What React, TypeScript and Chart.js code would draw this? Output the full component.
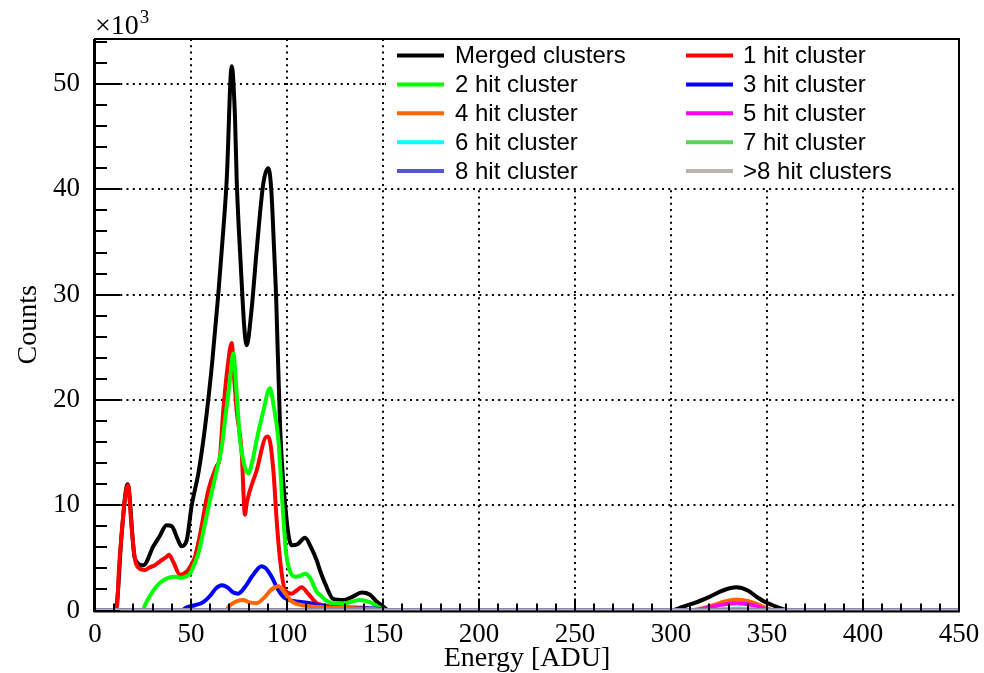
import { useEffect, useRef } from "react";
import { Chart, registerables } from "chart.js";

Chart.register(...registerables);

// Axis ranges (energy in ADU, counts in units of 10^3)
const energyRange = [0, 450];
const countsRange = [0, 54.28];
const energyStep = 50;
const countsStep = 10;

const seriesLabels = [
  "Merged clusters",
  "1 hit cluster",
  "2 hit cluster",
  "3 hit cluster",
  "4 hit cluster",
  "5 hit cluster",
  "6 hit cluster",
  "7 hit cluster",
  "8 hit cluster",
  ">8 hit clusters",
];

const seriesColors = [
  "#000000",
  "#ff0000",
  "#00ff00",
  "#0000ff",
  "#ff6600",
  "#ff00ff",
  "#00ffff",
  "#59d459",
  "#5555d5",
  "#bdb3a8",
];

// Merged clusters
const mergedEnergy = [0, 10, 11.3, 13.9, 17, 20.8, 25.2, 30.4, 33.5, 37.3, 40, 43, 45.1, 47.8, 50.3, 54, 57.3, 61, 64.2, 66, 68.6, 71.2, 72.9, 73.8, 75.5, 79, 81.5, 84.2, 87.7, 90.3, 91.8, 93.3, 94.3, 96.4, 99.8, 102.4, 105.5, 109.4, 112.5, 115.4, 117.2, 120, 124.1, 129.3, 134, 138.9, 143.2, 147, 150, 153, 300, 306, 312, 320, 327, 334, 340, 344.6, 349, 353, 358, 362, 450];
const mergedCounts = [0, 0, 0.5, 7.3, 12.0, 4.9, 4.3, 6.1, 7.0, 8.1, 8.0, 6.8, 6.1, 6.7, 9.9, 13.2, 17.4, 23.5, 30.0, 34.2, 40.9, 51.7, 46.9, 40.9, 34.2, 25.2, 28.5, 34.2, 40.6, 42.0, 40.0, 34.2, 30.0, 17.4, 8.6, 6.2, 6.3, 6.9, 6.0, 4.8, 3.8, 2.5, 1.1, 1.0, 1.3, 1.7, 1.5, 0.8, 0.4, 0, 0, 0.35, 0.7, 1.3, 1.9, 2.2, 1.9, 1.3, 0.8, 0.5, 0.15, 0, 0];

// 1 hit cluster
const hit1Energy = [0, 10.5, 11.5, 12.5, 13.9, 15.5, 17.2, 19, 20.8, 23, 26, 28.5, 31.2, 34, 37.3, 38.5, 40.8, 44.3, 47.8, 50, 52.1, 55, 59, 63.3, 65, 66.8, 69, 71.2, 72.5, 73.8, 76.4, 78.1, 79, 84.2, 89.4, 90.3, 92.9, 94.6, 96.4, 99, 102.4, 105, 107.6, 111, 115.4, 120, 125, 135, 150, 155, 450];
const hit1Counts = [0, 0, 0.5, 4.0, 7.3, 10.5, 11.9, 8.0, 4.9, 4.0, 3.85, 4.1, 4.3, 4.7, 5.1, 5.3, 4.6, 3.4, 3.7, 4.3, 5.1, 7.5, 11.4, 13.7, 14.5, 19.0, 23.0, 25.4, 22.0, 19.0, 15.0, 9.1, 10.2, 13.3, 16.5, 16.5, 13.3, 8.6, 4.8, 1.9, 1.6, 1.9, 2.2, 1.6, 0.7, 0.45, 0.3, 0.15, 0.05, 0, 0];

// 2 hit cluster
const hit2Energy = [0, 25, 26, 29, 32.1, 35, 38.2, 42, 45.1, 47, 49.5, 51.5, 53.8, 57, 59.9, 63, 66, 68, 70.3, 72, 74, 75.5, 77.5, 79.9, 82, 84.2, 87.5, 91.1, 93, 95.5, 97.5, 99.5, 101, 104.2, 107, 109.4, 112, 115.4, 117.2, 120.7, 124, 130, 138, 143, 147, 150, 152, 450];
const hit2Counts = [0, 0, 0.5, 1.5, 2.3, 2.8, 3.1, 3.2, 3.1, 3.2, 3.5, 4.3, 5.4, 8.0, 10.5, 13.0, 15.5, 18.5, 21.9, 24.4, 20.0, 16.2, 14.0, 13.0, 14.2, 16.2, 18.8, 21.1, 19.5, 16.2, 10.5, 5.5, 4.0, 3.2, 3.3, 3.5, 3.1, 1.8, 1.5, 0.9, 0.7, 0.7, 1.0, 0.8, 0.4, 0.1, 0, 0];

// 3 hit cluster
const hit3Energy = [0, 45, 47.7, 52, 56.4, 60, 63, 66, 69, 72, 74.6, 78, 82, 86.8, 89, 92, 95, 98.1, 101, 105, 112, 118.9, 125, 140, 150, 155, 320, 328, 335, 342, 350, 450];
const hit3Counts = [0, 0, 0.3, 0.5, 0.8, 1.4, 2.1, 2.4, 2.2, 1.7, 1.6, 2.2, 3.3, 4.2, 4.0, 3.2, 2.1, 1.3, 1.0, 0.85, 0.7, 0.4, 0.3, 0.25, 0.1, 0, 0, 0.1, 0.15, 0.1, 0, 0];

// 4 hit cluster
const hit4Energy = [0, 68, 70.3, 74, 77.2, 80, 84.2, 88, 92, 95.5, 98.5, 101.6, 104, 108.5, 115, 130, 145, 150, 152, 310, 316, 322, 328, 334, 340, 345, 350, 354, 450];
const hit4Counts = [0, 0, 0.5, 0.9, 1.0, 0.8, 0.7, 1.2, 2.0, 2.3, 1.8, 1.0, 0.7, 0.5, 0.35, 0.25, 0.15, 0.05, 0, 0, 0.2, 0.5, 0.85, 1.05, 0.9, 0.6, 0.2, 0, 0];

// 5 hit cluster
const hit5Energy = [0, 312, 318, 325, 334, 342, 348, 352, 450];
const hit5Counts = [0, 0, 0.2, 0.5, 0.7, 0.55, 0.2, 0, 0];

// 6 hit cluster
const hit6Energy = [0, 322, 328, 335, 342, 348, 450];
const hit6Counts = [0, 0, 0.12, 0.2, 0.12, 0, 0];

// 7 hit cluster
const hit7Energy = [0, 325, 335, 345, 450];
const hit7Counts = [0, 0, 0.1, 0, 0];

// 8 hit cluster
const hit8Energy = [0, 450];
const hit8Counts = [0, 0];

// more than 8 hits
const hitManyEnergy = [0, 450];
const hitManyCounts = [0, 0];

const seriesEnergy = [mergedEnergy, hit1Energy, hit2Energy, hit3Energy, hit4Energy, hit5Energy, hit6Energy, hit7Energy, hit8Energy, hitManyEnergy];
const seriesCounts = [mergedCounts, hit1Counts, hit2Counts, hit3Counts, hit4Counts, hit5Counts, hit6Counts, hit7Counts, hit8Counts, hitManyCounts];

const serif = '"Liberation Serif", "Times New Roman", serif';
const sans = '"Liberation Sans", Arial, sans-serif';

// Frame, inward ticks, dotted grid, legend box and the exponent label
const frameAndLegend = {
  id: "frameAndLegend",
  beforeDatasetsDraw(chart: any) {
    const { ctx, chartArea: a, scales } = chart;
    const x = scales.x;
    const y = scales.y;
    ctx.save();
    ctx.strokeStyle = "#000";
    ctx.lineWidth = 2;
    ctx.setLineDash([2, 4.3]);
    for (const t of x.ticks) {
      if (t.value <= x.min || t.value >= x.max) continue;
      const px = Math.round(x.getPixelForValue(t.value));
      ctx.beginPath();
      ctx.moveTo(px, a.top);
      ctx.lineTo(px, a.bottom);
      ctx.stroke();
    }
    for (const t of y.ticks) {
      if (t.value <= y.min || t.value >= y.max) continue;
      const py = Math.round(y.getPixelForValue(t.value));
      ctx.beginPath();
      ctx.moveTo(a.left, py);
      ctx.lineTo(a.right, py);
      ctx.stroke();
    }
    ctx.restore();
  },
  afterDatasetsDraw(chart: any) {
    const { ctx, chartArea: a, scales } = chart;
    const x = scales.x;
    const y = scales.y;
    ctx.save();

    // legend box
    const boxLeft = 386;
    const boxBottom = 188;
    ctx.fillStyle = "#fff";
    ctx.fillRect(boxLeft, a.top + 1, a.right - 1 - boxLeft, boxBottom - a.top - 1);
    const colLine = [397, 686];
    const colText = [455, 743];
    ctx.font = `24px ${sans}`;
    ctx.textBaseline = "middle";
    ctx.textAlign = "left";
    ctx.lineWidth = 4;
    chart.data.datasets.forEach((ds: any, i: number) => {
      const col = i % 2;
      const row = Math.floor(i / 2);
      const ly = 55.5 + row * 28.9;
      ctx.strokeStyle = ds.borderColor;
      ctx.beginPath();
      ctx.moveTo(colLine[col], ly);
      ctx.lineTo(colLine[col] + 47, ly);
      ctx.stroke();
      ctx.fillStyle = "#000";
      ctx.fillText(ds.label, colText[col], ly + 1);
    });

    // frame
    ctx.strokeStyle = "#000";
    ctx.lineWidth = 2;
    ctx.strokeRect(a.left, a.top, a.right - a.left, a.bottom - a.top + 1);
    ctx.lineWidth = 3;
    ctx.beginPath();
    ctx.moveTo(a.left - 0.5, a.top);
    ctx.lineTo(a.left - 0.5, a.bottom + 1.5);
    ctx.stroke();

    // y ticks (major + minor), pointing inward
    ctx.lineWidth = 2;
    const yMinorStep = countsStep / 5;
    for (let v = y.min; v <= y.max + 1e-9; v += yMinorStep) {
      const py = Math.round(y.getPixelForValue(v));
      const major = Math.abs(v / countsStep - Math.round(v / countsStep)) < 1e-6;
      ctx.beginPath();
      ctx.moveTo(a.left, py);
      ctx.lineTo(a.left + (major ? 25 : 12), py);
      ctx.stroke();
    }
    // x ticks
    const xMinorStep = energyStep / 5;
    for (let v = x.min; v <= x.max + 1e-9; v += xMinorStep) {
      const px = Math.round(x.getPixelForValue(v));
      const major = Math.abs(v / energyStep - Math.round(v / energyStep)) < 1e-6;
      ctx.beginPath();
      ctx.moveTo(px, a.bottom + 1);
      ctx.lineTo(px, a.bottom + 1 - (major ? 13 : 8));
      ctx.stroke();
    }

    // exponent of the count axis
    ctx.fillStyle = "#000";
    ctx.textBaseline = "alphabetic";
    ctx.font = `28px ${serif}`;
    ctx.fillText("\u00d710", a.left, 34);
    const w = ctx.measureText("\u00d710").width;
    ctx.font = `19px ${serif}`;
    ctx.fillText("3", a.left + w + 1, 23);
    ctx.restore();
  },
};

export default function App() {
  const canvasRef = useRef<HTMLCanvasElement | null>(null);

  useEffect(() => {
    const canvas = canvasRef.current;
    if (!canvas) return;
    const datasets = seriesLabels.map((label, i) => ({
      label,
      data: seriesEnergy[i].map((e, k) => ({ x: e, y: seriesCounts[i][k] })),
      borderColor: seriesColors[i],
      backgroundColor: seriesColors[i],
      borderWidth: i === 8 ? 5 : 4,
      pointRadius: 0,
      fill: false,
      cubicInterpolationMode: "monotone" as const,
      borderJoinStyle: "round" as const,
      order: -i,
    }));

    const chart = new Chart(canvas, {
      type: "line",
      data: { datasets },
      options: {
        animation: false,
        responsive: false,
        devicePixelRatio: 1,
        layout: { padding: { left: 0, top: 39, right: 25, bottom: 0 } },
        plugins: { legend: { display: false }, tooltip: { enabled: false } },
        scales: {
          x: {
            type: "linear",
            min: energyRange[0],
            max: energyRange[1],
            grid: { display: false, drawTicks: false },
            border: { display: false },
            ticks: {
              stepSize: energyStep,
              includeBounds: false,
              autoSkip: false,
              maxRotation: 0,
              padding: 8,
              color: "#000",
              font: { family: serif, size: 27 },
            },
            title: {
              display: true,
              text: "Energy [ADU]",
              color: "#000",
              font: { family: serif, size: 28, lineHeight: 1 },
              padding: { top: 0, bottom: 0 },
            },
            afterFit: (s: any) => {
              s.height = 62.5;
              s.paddingLeft = 0;
              s.paddingRight = 0;
            },
          },
          y: {
            type: "linear",
            min: countsRange[0],
            max: countsRange[1],
            grid: { display: false, drawTicks: false },
            border: { display: false },
            ticks: {
              stepSize: countsStep,
              includeBounds: false,
              padding: 15,
              color: "#000",
              font: { family: serif, size: 27 },
            },
            title: {
              display: true,
              text: "Counts",
              color: "#000",
              font: { family: serif, size: 28 },
              padding: { top: 12, bottom: 0 },
            },
            afterFit: (s: any) => {
              s.width = 95;
              s.paddingTop = 0;
              s.paddingBottom = 0;
            },
          },
        },
      },
      plugins: [frameAndLegend],
    });

    return () => chart.destroy();
  }, []);

  return (
    <div style={{ position: "fixed", left: 0, top: 0, width: 984, height: 673, background: "#fff" }}>
      <canvas ref={canvasRef} width={984} height={673} style={{ width: 984, height: 673, display: "block" }} />
    </div>
  );
}
